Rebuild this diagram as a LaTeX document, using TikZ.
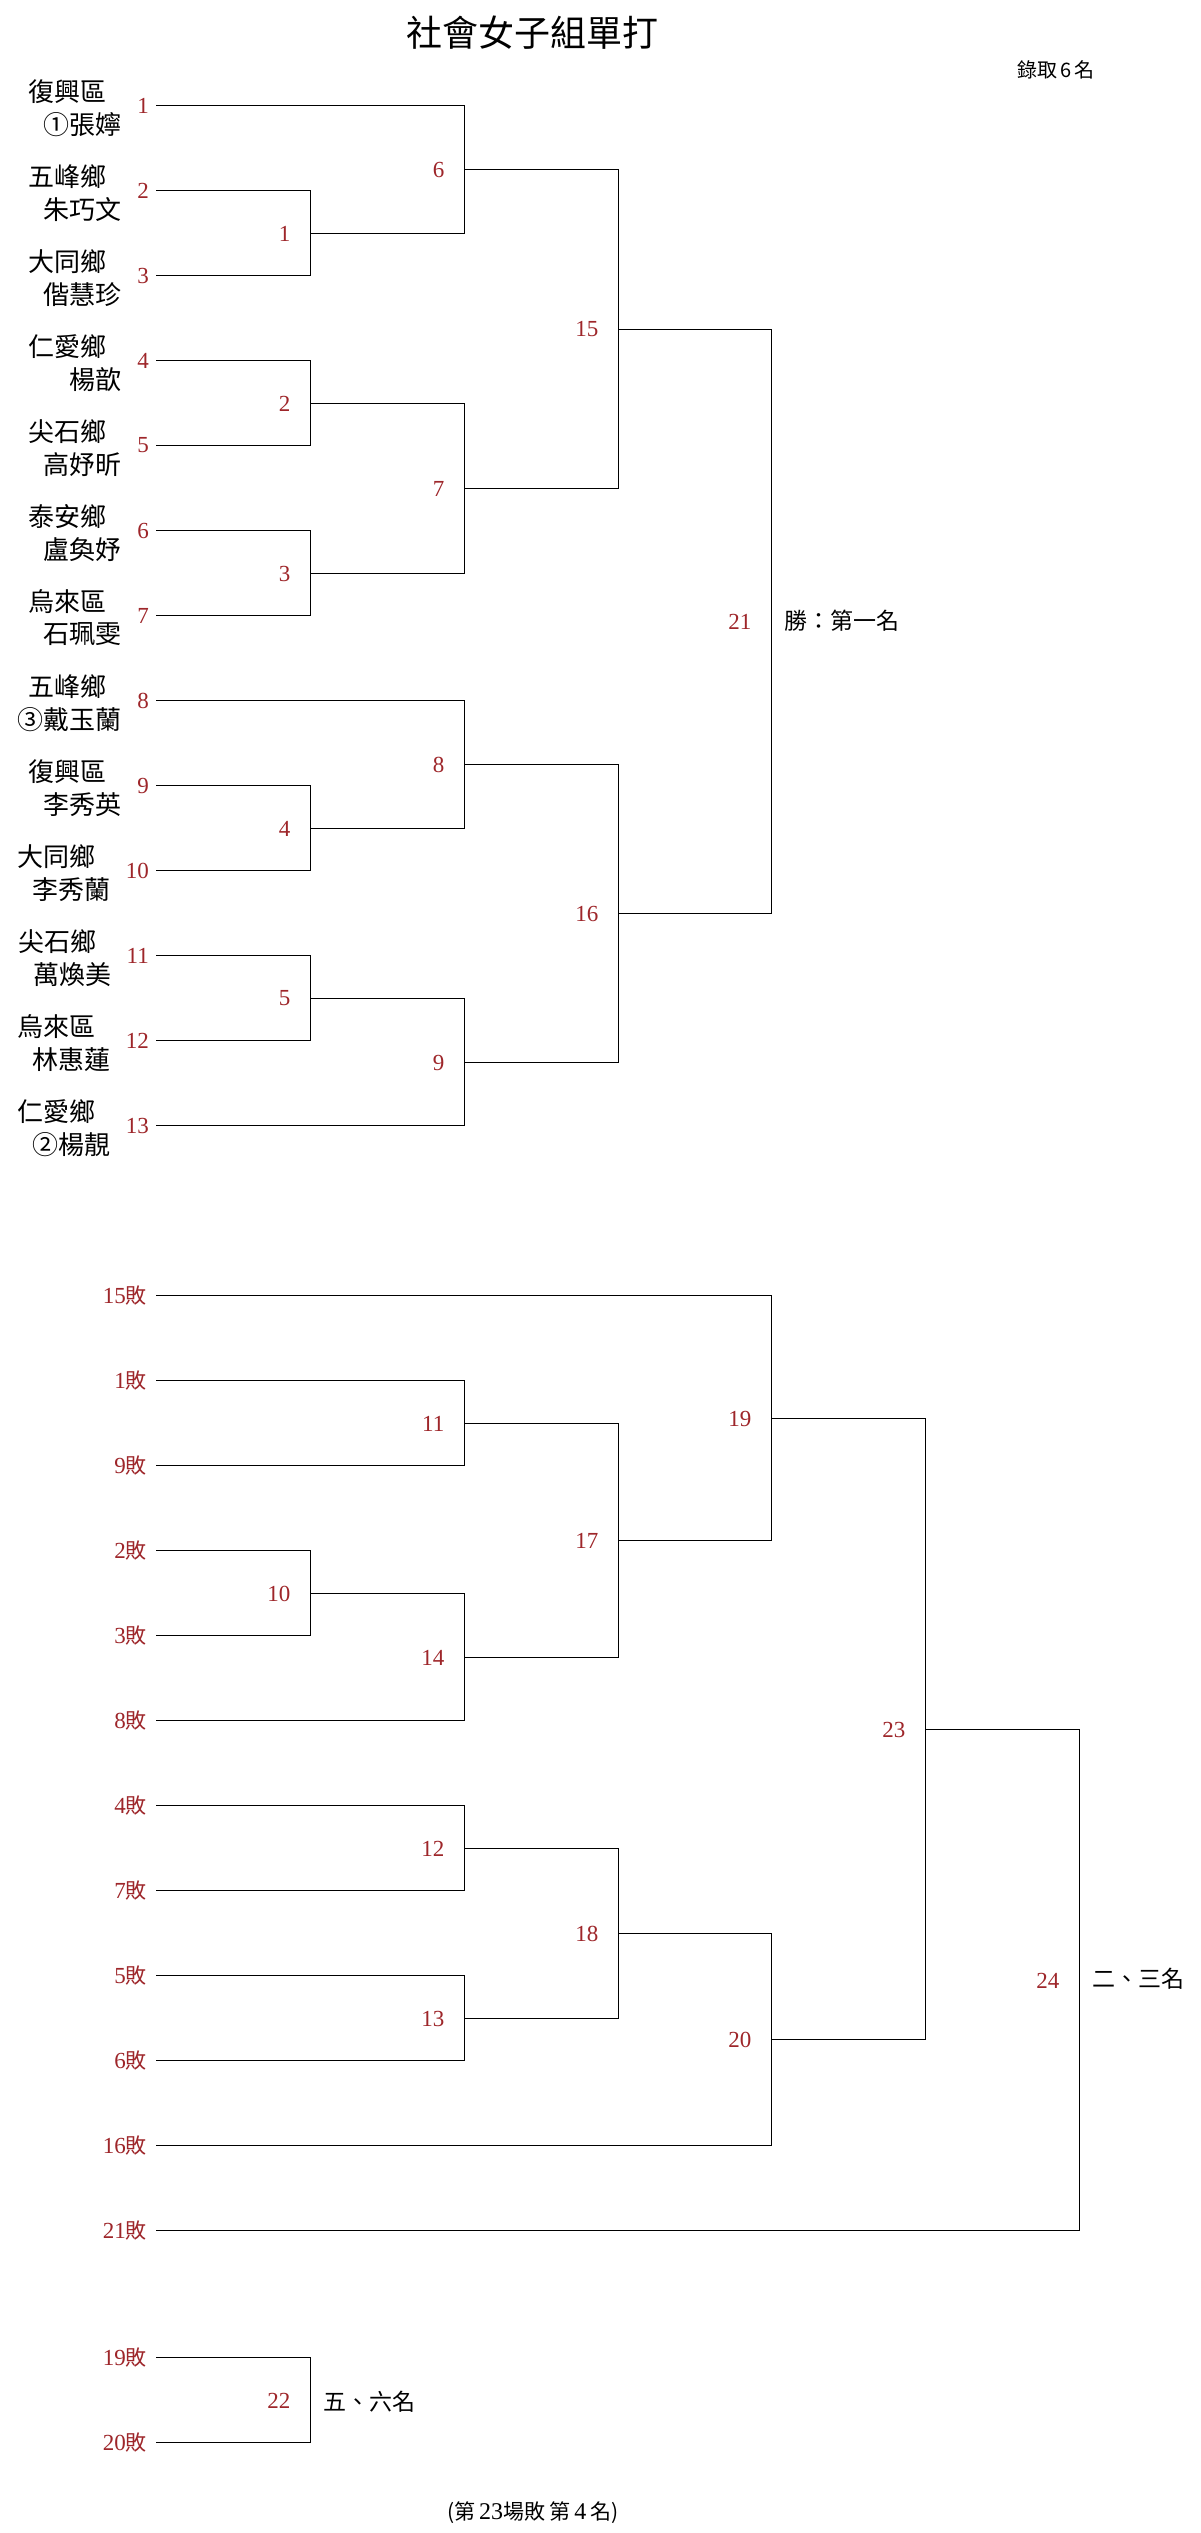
\documentclass[tikz,border=0pt]{standalone}
\usepackage{fontspec}
\setmainfont{Liberation Serif}
\newfontfamily\cjk{Noto Sans CJK TC}
\definecolor{numred}{RGB}{158,38,42}
\begin{document}
\begin{tikzpicture}[x=1pt,y=-1pt,
  br/.style={line width=1.2pt,line cap=rect},
  num/.style={inner sep=0pt,text=numred,font=\fontsize{23}{23}\selectfont},
  cjkt/.style={inner sep=0pt,font=\cjk\fontsize{26}{26}\selectfont},
  note/.style={inner sep=0pt,font=\cjk\fontsize{23}{23}\selectfont}]
\fill[white] (0,0) rectangle (1201,2533);
\useasboundingbox (0,0) rectangle (1201,2533);

% title
\node[inner sep=0pt,font=\cjk\fontsize{36}{36}\selectfont] (title) at (532,33) {社會女子組單打};
\node[inner sep=0pt,font=\cjk\fontsize{20}{20}\selectfont] (quota) at (1056,70) {錄取\,6\,名};

% seeds of the main bracket
\foreach \k/\cl/\nm in {1/復興區/①張嬣,2/五峰鄉/朱巧文,3/大同鄉/偕慧珍,4/仁愛鄉/楊歆,
  5/尖石鄉/高妤昕,6/泰安鄉/盧奐妤,7/烏來區/石珮雯,8/五峰鄉/③戴玉蘭,9/復興區/李秀英,
  10/大同鄉/李秀蘭,11/尖石鄉/萬煥美,12/烏來區/林惠蓮,13/仁愛鄉/②楊靚}{
  \pgfmathsetmacro\yy{105.5+85*(\k-1)}
  \coordinate (s\k) at (157,\yy);
  \node[num,anchor=east] (n\k) at (149,\yy) {\k};
  \node[cjkt,anchor=east] (nm\k) at ([xshift=-15pt,yshift=-19pt]n\k.west) {\nm};
  \node[cjkt,anchor=east] (cl\k) at ([xshift=-30pt,yshift=14pt]n\k.west) {\cl};
}

% matches of the main bracket
\foreach \m/\x/\y in {1/310.5/233.5,2/310.5/403.5,3/310.5/573.5,4/310.5/828.5,5/310.5/998.5,
  6/464.5/169.5,7/464.5/488.5,8/464.5/764.5,9/464.5/1062.5,
  15/618.5/329.5,16/618.5/913.5,21/771.5/621.5}{
  \coordinate (m\m) at (\x,\y);
  \node[num,anchor=east] (t\m) at ([xshift=-20pt]m\m) {\m};
}

\foreach \a/\b in {s2/m1,s3/m1,s4/m2,s5/m2,s6/m3,s7/m3,s9/m4,s10/m4,s11/m5,s12/m5,
  s1/m6,m1/m6,m2/m7,m3/m7,s8/m8,m4/m8,m5/m9,s13/m9,
  m6/m15,m7/m15,m8/m16,m9/m16,m15/m21,m16/m21}{
  \draw[br] (\a) -| (\b);
}

\node[note,anchor=west] (first) at (784,621) {勝：第一名};

% losers bracket entries
\foreach \i/\t in {0/15,1/1,2/9,3/2,4/3,5/8,6/4,7/7,8/5,9/6,10/16,11/21}{
  \pgfmathsetmacro\yy{1295.5+85*\i}
  \coordinate (e\t) at (157,\yy);
  \node[num,anchor=east] (ln\t) at (147,\yy) {\t{\cjk\fontsize{21}{21}\selectfont 敗}};
}
\foreach \t/\yy in {19/2357.5,20/2442.5}{
  \coordinate (e\t) at (157,\yy);
  \node[num,anchor=east] (ln\t) at (147,\yy) {\t{\cjk\fontsize{21}{21}\selectfont 敗}};
}

\foreach \m/\x/\y in {10/310.5/1593.5,11/464.5/1423.5,14/464.5/1657.5,12/464.5/1848.5,
  13/464.5/2018.5,17/618.5/1540.5,18/618.5/1933.5,19/771.5/1418.5,20/771.5/2039.5,
  23/925.5/1729.5,24/1079.5/1980.5,22/310.5/2400.5}{
  \coordinate (m\m) at (\x,\y);
  \node[num,anchor=east] (t\m) at ([xshift=-20pt]m\m) {\m};
}

\foreach \a/\b in {e15/m19,e1/m11,e9/m11,e2/m10,e3/m10,m10/m14,e8/m14,e4/m12,e7/m12,
  e5/m13,e6/m13,m11/m17,m14/m17,m12/m18,m13/m18,m17/m19,m18/m20,e16/m20,
  m19/m23,m20/m23,m23/m24,e21/m24,e19/m22,e20/m22}{
  \draw[br] (\a) -| (\b);
}

\node[note,anchor=west] (second) at (1092,1979) {二、三名};
\node[note,anchor=west] (fifth) at (323,2402) {五、六名};

\node[inner sep=0pt] (foot) at (533,2513)
  {{\cjk\fontsize{21}{21}\selectfont (第\,}{\fontsize{24}{24}\selectfont 23}{\cjk\fontsize{21}{21}\selectfont 場敗~第\,}{\fontsize{24}{24}\selectfont 4\,}{\cjk\fontsize{21}{21}\selectfont 名)}};
\end{tikzpicture}
\end{document}
